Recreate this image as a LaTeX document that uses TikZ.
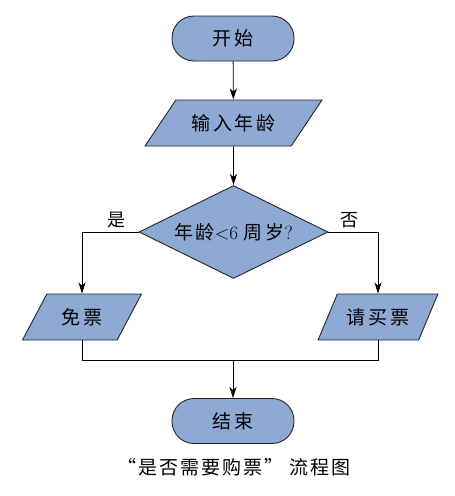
\documentclass[tikz,border=0pt]{standalone}
\usepackage{fontspec}
\newfontfamily\cjk[LetterSpace=14]{Noto Sans CJK SC}
\newfontfamily\cjkcap[LetterSpace=10]{Noto Sans CJK SC}
\usetikzlibrary{shapes.geometric,arrows.meta}
\definecolor{boxblue}{RGB}{142,169,212}
\tikzset{
	box/.style={draw=black!85,fill=boxblue,line width=.9pt,font=\fontsize{19}{22}\selectfont\cjk},
	term/.style={box,rectangle,rounded corners=22pt,minimum width=122pt,minimum height=45pt},
	io/.style={box,trapezium,trapezium stretches=true,minimum height=46pt},
	arr/.style={-{Stealth[length=11pt,width=7pt,inset=3pt]}},
}
\begin{document}
\begin{tikzpicture}[x=1pt,y=-1pt,line width=.8pt]
		\useasboundingbox(0,0)rectangle(455,496);
		\node[term](start)at(233,38.5){开始};
		\node[io,trapezium left angle=45,trapezium right angle=135,minimum width=177pt](input)at(233.5,123){输入年龄};
		\node[box,diamond,aspect=2,inner sep=1pt,minimum width=189pt,minimum height=93pt](dec)at(233.5,232){{\cjk 年龄}\fontspec{Latin Modern Roman}<6 {\cjk 周岁}?};
		\node[io,trapezium left angle=56,trapezium right angle=124,minimum width=120pt](free)at(82,317){免票};
		\node[io,trapezium left angle=56,trapezium right angle=124,minimum width=120pt](buy)at(378,317){请买票};
		\node[term](end)at(233,421){结束};
		\coordinate(m)at(233,360);
		\node[font=\fontsize{18}{20}\selectfont\cjk](yes)at(116,220){是};
		\node[font=\fontsize{18}{20}\selectfont\cjk](no)at(349,220){否};
		\draw[arr](start)--(input);
		\draw[arr](input)--(dec);
		\draw[arr](dec.west)-|(free.north-|free);
		\draw[arr](dec.east)-|(buy.north-|buy);
		\draw(free.south-|free)|-(m);
		\draw(buy.south-|buy)|-(m);
		\draw[arr](m)--(end);
		\node[font=\fontsize{19}{22}\selectfont\cjkcap](cap)at(234,467){“是否需要购票”~流程图};
		\end{tikzpicture}
\end{document}
